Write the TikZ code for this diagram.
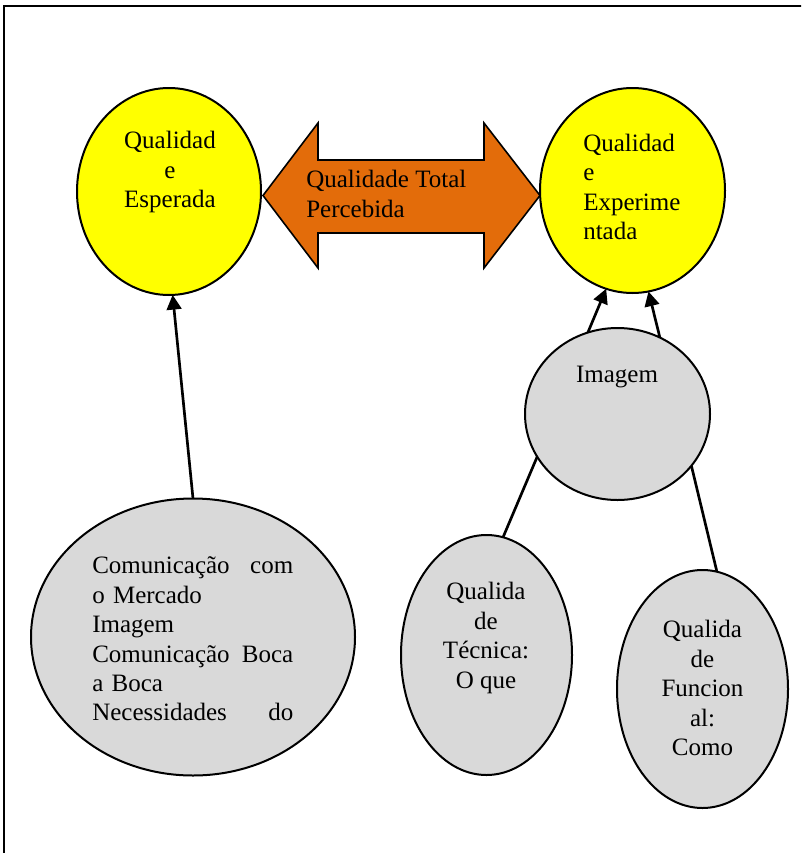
\documentclass[tikz,border=0pt]{standalone}
\usepackage{fontspec}
\setmainfont{Liberation Serif}
\usetikzlibrary{arrows.meta,shapes.geometric}
\definecolor{qyellow}{RGB}{255,255,0}
\definecolor{qgray}{RGB}{217,217,217}
\definecolor{qorange}{RGB}{227,108,10}
\begin{document}
\begin{tikzpicture}[x=0.75pt,y=-0.75pt,
  bubble/.style={ellipse,draw,line width=1.5pt,inner sep=0pt,outer sep=0pt},
  yel/.style={bubble,fill=qyellow},
  gry/.style={bubble,fill=qgray},
  txt/.style={inner sep=0pt,font=\fontsize{18.75}{22.1}\selectfont},
  conn/.style={line width=2pt},
  arr/.style={conn,-{Triangle[length=11pt,width=11pt]}}]
\useasboundingbox (0,0) rectangle (801,853);
\clip (0,0) rectangle (801,853);
\draw[line width=1.8pt] (4,6) rectangle (830,880);
% double arrow
\draw[line width=1.2pt,fill=qorange] (263,195.5) -- (318,123) -- (318,160) -- (484,160) -- (484,123) -- (540,195.5) -- (484,268) -- (484,233) -- (318,233) -- (318,268) -- cycle;
\node[txt,anchor=west,align=left] (tot) at (306,194) {Qualidade Total\\Percebida};
% ellipses
\node[yel,minimum width=138pt,minimum height=155.25pt] (esp) at (169,191.5) {};
\node[yel,minimum width=138.75pt,minimum height=153.75pt] (exp) at (632.5,190.5) {};
\node[gry,minimum width=243pt,minimum height=207.75pt] (com) at (193,637) {};
\node[gry,minimum width=138.75pt,minimum height=129pt] (img) at (617.5,414) {};
\node[gry,minimum width=128.25pt,minimum height=180pt] (tec) at (486.5,655) {};
\node[gry,minimum width=128.25pt,minimum height=178.5pt] (fun) at (702.5,689) {};
% texts
\node[txt,align=center] (tesp) at (170,172) {Qualidad\\e\\Esperada};
\node[txt,anchor=west,align=left] (texp) at (583,187) {Qualidad\\e\\Experime\\ntada};
\node[txt] (timg) at (617,377) {Imagem};
\node[txt,align=center] (ttec) at (486,638) {Qualida\\de\\Técnica:\\O que};
\node[txt,align=center] (tfun) at (702.5,688) {Qualida\\de\\Funcion\\al:\\Como};
\node[txt,anchor=west,text width=150.75pt,align=left] (tcom) at (92,639)
  {Comunicação\hfill com\\o Mercado\\Imagem\\Comunicação\hfill Boca\\a Boca\\Necessidades\hfill do};
% connectors
\draw[arr] (com.north) -- (esp.-88);
\draw[arr] (img.110) -- (exp.-105);
\draw[arr] (img.61) -- (exp.-81);
\draw[conn] (img.208) -- (tec.82);
\draw[conn] (img.-35) -- (fun.83);
\end{tikzpicture}
\end{document}
